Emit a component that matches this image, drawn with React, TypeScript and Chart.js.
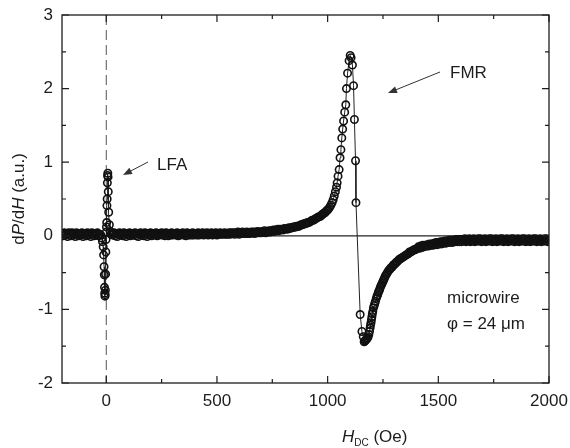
import { useEffect, useRef } from 'react';
import { Chart, registerables } from 'chart.js';

Chart.register(...registerables);

// ---- Data (H_DC in Oe, dP/dH in a.u.) ----
const baseLeftField = [-200, -195, -190, -185, -180, -175, -170, -165, -160, -155, -150, -145, -140, -135, -130, -125, -120, -115, -110, -105, -100, -95, -90, -85, -80, -75, -70, -65, -60, -55, -50, -45, -40, -35, -30];
const baseLeftSignal = [0.03, 0.0, 0.04, 0.01, 0.03, -0.01, 0.04, 0.02, 0.0, 0.04, 0.01, 0.03, -0.01, 0.04, 0.02, 0.0, 0.03, 0.01, 0.04, -0.01, 0.03, 0.02, 0.0, 0.04, 0.01, 0.03, -0.01, 0.04, 0.02, 0.0, 0.03, 0.01, 0.04, 0.0, 0.02];

const lfaField = [-24, -20, -17, -14, -12, -10, -9, -8, -7, -6, -5, -4, -3, -2, -1, 0, 1, 2, 3, 4, 5, 6, 7, 8, 9, 11, 14, 18, 22, 26];
const lfaSignal = [0.01, -0.03, -0.08, -0.15, -0.26, -0.42, -0.53, -0.7, -0.78, -0.82, -0.8, -0.74, -0.52, -0.22, -0.05, 0.05, 0.12, 0.18, 0.41, 0.5, 0.72, 0.82, 0.85, 0.8, 0.6, 0.32, 0.15, 0.06, 0.02, 0.03];

const midField = [
  30, 35, 40, 45, 50, 55, 60, 65, 70, 75, 80, 85, 90, 95, 100, 105, 110, 115, 120, 125,
  130, 135, 140, 145, 150, 155, 160, 165, 170, 175, 180, 185, 190, 195, 200, 205, 210, 215, 220, 225,
  230, 235, 240, 245, 250, 255, 260, 265, 270, 275, 280, 285, 290, 295, 300, 305, 310, 315, 320, 325,
  330, 335, 340, 345, 350, 355, 360, 365, 370, 375, 380, 385, 390, 395, 400, 405, 410, 415, 420, 425,
  430, 435, 440, 445, 450, 455, 460, 465, 470, 475, 480, 485, 490, 495, 500, 505, 510, 515, 520, 525,
  530, 535, 540, 545, 550, 555, 560, 565, 570, 575, 580, 585, 590, 595, 600, 605, 610, 615, 620, 625,
  630, 635, 640, 645, 650, 655, 660, 665, 670, 675, 680, 685, 690, 695,
];
const midSignal = [
  0.01, 0.04, 0.0, 0.03, -0.01, 0.02, 0.04, 0.01, 0.03, 0.0, 0.04, 0.02, -0.01, 0.03, 0.01, 0.04, 0.0, 0.02, 0.03, 0.01,
  0.04, 0.0, 0.03, -0.01, 0.02, 0.04, 0.01, 0.03, 0.0, 0.04, 0.02, -0.01, 0.03, 0.01, 0.04, 0.0, 0.02, 0.03, 0.01, 0.04,
  0.0, 0.03, 0.01, 0.02, 0.04, 0.01, 0.03, 0.0, 0.04, 0.02, 0.0, 0.03, 0.01, 0.04, 0.01, 0.02, 0.03, 0.01, 0.04, 0.0,
  0.03, 0.01, 0.02, 0.04, 0.01, 0.03, 0.0, 0.04, 0.02, 0.01, 0.03, 0.01, 0.04, 0.01, 0.02, 0.03, 0.01, 0.04, 0.01, 0.03,
  0.02, 0.04, 0.01, 0.03, 0.02, 0.04, 0.01, 0.03, 0.02, 0.04, 0.01, 0.03, 0.02, 0.04, 0.01, 0.03, 0.02, 0.04, 0.02, 0.03,
  0.02, 0.04, 0.02, 0.03, 0.02, 0.04, 0.02, 0.04, 0.03, 0.04, 0.02, 0.04, 0.03, 0.05, 0.02, 0.04, 0.03, 0.05, 0.03, 0.04,
  0.03, 0.05, 0.03, 0.04, 0.03, 0.05, 0.04, 0.05, 0.03, 0.05, 0.04, 0.06, 0.04, 0.05,
];

const fmrField = [
  700, 705, 710, 715, 720, 725, 730, 735, 740, 745, 750, 755, 760, 765, 770, 775, 780, 785, 790, 795,
  800, 805, 810, 815, 820, 825, 830, 835, 840, 845, 850, 855, 860, 865, 870, 875, 880, 885, 890, 895,
  900, 905, 910, 915, 920, 925, 930, 935, 940, 945, 950, 955, 960, 965, 970, 975, 980, 985, 990, 995,
  1000, 1005, 1010, 1015, 1020, 1025, 1030, 1035, 1040, 1043,
  1047, 1052, 1056, 1060, 1064, 1068, 1072, 1077, 1082, 1085,
  1090, 1097, 1102, 1106, 1112, 1117, 1121, 1126, 1128, 1147,
  1155, 1161, 1165, 1168, 1171, 1174, 1177, 1180, 1183, 1186, 1189, 1192, 1194, 1196, 1198,
  1200, 1202, 1204, 1207, 1210, 1213, 1216, 1220, 1223, 1226, 1229, 1232, 1235, 1238, 1241, 1244, 1247,
  1250, 1253, 1256, 1260, 1264, 1268, 1272, 1276, 1280, 1284, 1288, 1292, 1296, 1300, 1305, 1310, 1315,
  1320, 1325, 1330, 1335, 1340, 1345, 1350, 1355, 1360, 1365, 1370, 1375, 1380, 1385, 1390, 1395, 1400,
];
const fmrSignal = [
  0.04, 0.06, 0.05, 0.07, 0.04, 0.06, 0.05, 0.07, 0.05, 0.07, 0.06, 0.08, 0.06, 0.08, 0.07, 0.09, 0.07, 0.09, 0.08, 0.09,
  0.08, 0.1, 0.09, 0.1, 0.09, 0.11, 0.1, 0.11, 0.11, 0.12, 0.12, 0.12, 0.13, 0.13, 0.13, 0.14, 0.15, 0.15, 0.16, 0.16,
  0.17, 0.17, 0.18, 0.18, 0.19, 0.2, 0.21, 0.21, 0.22, 0.23, 0.24, 0.25, 0.26, 0.26, 0.27, 0.29, 0.3, 0.31, 0.32, 0.34,
  0.35, 0.37, 0.39, 0.42, 0.45, 0.49, 0.54, 0.6, 0.66, 0.72,
  0.81, 0.9, 1.06, 1.17, 1.33, 1.45, 1.56, 1.68, 1.78, 2.0,
  2.21, 2.38, 2.45, 2.42, 2.32, 2.04, 1.58, 1.02, 0.45, -1.07,
  -1.3, -1.37, -1.44, -1.43, -1.42, -1.41, -1.4, -1.39, -1.37, -1.34, -1.3, -1.25, -1.21, -1.18, -1.14,
  -1.1, -1.06, -1.03, -0.98, -0.95, -0.92, -0.89, -0.85, -0.82, -0.8, -0.77, -0.75, -0.73, -0.7, -0.68, -0.66, -0.64,
  -0.62, -0.6, -0.58, -0.55, -0.53, -0.51, -0.49, -0.47, -0.46, -0.44, -0.43, -0.42, -0.4, -0.39, -0.38, -0.36, -0.35,
  -0.33, -0.32, -0.31, -0.3, -0.29, -0.28, -0.27, -0.26, -0.25, -0.24, -0.22, -0.22, -0.21, -0.2, -0.19, -0.19, -0.18,
];

const tailField = [
  1405, 1410, 1415, 1420, 1425, 1430, 1435, 1440, 1445, 1450, 1455, 1460, 1465, 1470, 1475, 1480, 1485, 1490, 1495, 1500,
  1505, 1510, 1515, 1520, 1525, 1530, 1535, 1540, 1545, 1550, 1555, 1560, 1565, 1570, 1575, 1580, 1585, 1590, 1595, 1600,
  1605, 1610, 1615, 1620, 1625, 1630, 1635, 1640, 1645, 1650, 1655, 1660, 1665, 1670, 1675, 1680, 1685, 1690, 1695, 1700,
  1705, 1710, 1715, 1720, 1725, 1730, 1735, 1740, 1745, 1750, 1755, 1760, 1765, 1770, 1775, 1780, 1785, 1790, 1795, 1800,
  1805, 1810, 1815, 1820, 1825, 1830, 1835, 1840, 1845, 1850, 1855, 1860, 1865, 1870, 1875, 1880, 1885, 1890, 1895, 1900,
  1905, 1910, 1915, 1920, 1925, 1930, 1935, 1940, 1945, 1950, 1955, 1960, 1965, 1970, 1975, 1980, 1985, 1990, 1995, 2000,
];
const tailSignal = [
  -0.17, -0.15, -0.17, -0.14, -0.16, -0.13, -0.15, -0.13, -0.14, -0.12, -0.14, -0.11, -0.13, -0.11, -0.13, -0.1, -0.12, -0.09, -0.12, -0.09,
  -0.11, -0.08, -0.11, -0.08, -0.1, -0.07, -0.1, -0.07, -0.09, -0.06, -0.09, -0.06, -0.09, -0.06, -0.08, -0.05, -0.08, -0.05, -0.08, -0.05,
  -0.08, -0.05, -0.07, -0.04, -0.08, -0.05, -0.07, -0.04, -0.08, -0.05, -0.07, -0.04, -0.08, -0.05, -0.07, -0.04, -0.07, -0.04, -0.08, -0.05,
  -0.07, -0.04, -0.08, -0.05, -0.07, -0.04, -0.07, -0.04, -0.08, -0.05, -0.07, -0.04, -0.08, -0.05, -0.07, -0.04, -0.07, -0.04, -0.08, -0.05,
  -0.07, -0.04, -0.08, -0.05, -0.07, -0.04, -0.07, -0.04, -0.08, -0.05, -0.07, -0.04, -0.08, -0.05, -0.07, -0.04, -0.07, -0.04, -0.08, -0.05,
  -0.07, -0.04, -0.08, -0.05, -0.07, -0.04, -0.07, -0.04, -0.08, -0.05, -0.07, -0.04, -0.08, -0.05, -0.07, -0.04, -0.07, -0.04, -0.08, -0.05,
];

const xMajorTicks = [0, 500, 1000, 1500, 2000];
const xMinorTicks = [250, 750, 1250, 1750];
const yMajorTicks = [-2, -1, 0, 1, 2, 3];
const yMinorTicks = [-1.5, -0.5, 0.5, 1.5, 2.5];

const FONT = '"Liberation Sans", Arial, Helvetica, sans-serif';
const INK = '#1c1c1c';

function zip(xs: number[], ys: number[]) {
  return xs.map((x, i) => ({ x, y: ys[i] }));
}

function drawArrow(ctx: CanvasRenderingContext2D, x1: number, y1: number, x2: number, y2: number) {
  const ang = Math.atan2(y2 - y1, x2 - x1);
  const hl = 9;
  const hw = 3.5;
  ctx.save();
  ctx.strokeStyle = '#333';
  ctx.fillStyle = '#333';
  ctx.lineWidth = 1;
  ctx.beginPath();
  ctx.moveTo(x1, y1);
  ctx.lineTo(x2 - Math.cos(ang) * hl * 0.8, y2 - Math.sin(ang) * hl * 0.8);
  ctx.stroke();
  ctx.beginPath();
  ctx.moveTo(x2, y2);
  ctx.lineTo(x2 - hl * Math.cos(ang) + hw * Math.sin(ang), y2 - hl * Math.sin(ang) - hw * Math.cos(ang));
  ctx.lineTo(x2 - hl * Math.cos(ang) - hw * Math.sin(ang), y2 - hl * Math.sin(ang) + hw * Math.cos(ang));
  ctx.closePath();
  ctx.fill();
  ctx.restore();
}

type Piece = { t: string; italic?: boolean; size?: number; dy?: number };

function drawPieces(ctx: CanvasRenderingContext2D, pieces: Piece[], x: number, y: number, align: 'left' | 'center') {
  const widths = pieces.map((p) => {
    ctx.font = `${p.italic ? 'italic ' : ''}${p.size ?? 17}px ${FONT}`;
    return ctx.measureText(p.t).width;
  });
  const total = widths.reduce((a, b) => a + b, 0);
  let cx = align === 'center' ? x - total / 2 : x;
  pieces.forEach((p, i) => {
    ctx.font = `${p.italic ? 'italic ' : ''}${p.size ?? 17}px ${FONT}`;
    ctx.fillText(p.t, cx, y + (p.dy ?? 0));
    cx += widths[i];
  });
}

const decorPlugin = {
  id: 'decor',
  beforeDatasetsDraw(chart: any) {
    const { ctx, chartArea: a, scales } = chart;
    const xs = scales.x;
    const ys = scales.y;
    ctx.save();
    ctx.beginPath();
    ctx.rect(a.left, a.top, a.right - a.left, a.bottom - a.top);
    ctx.clip();
    const y0 = ys.getPixelForValue(0);
    ctx.strokeStyle = '#222';
    ctx.lineWidth = 1.2;
    ctx.beginPath();
    ctx.moveTo(a.left, y0);
    ctx.lineTo(a.right, y0);
    ctx.stroke();
    const x0 = xs.getPixelForValue(0);
    ctx.strokeStyle = '#555';
    ctx.lineWidth = 1;
    ctx.setLineDash([10, 5]);
    ctx.beginPath();
    ctx.moveTo(x0, a.top);
    ctx.lineTo(x0, a.bottom);
    ctx.stroke();
    ctx.restore();
  },
  afterDraw(chart: any) {
    const { ctx, chartArea: a, scales } = chart;
    const xs = scales.x;
    const ys = scales.y;
    ctx.save();
    ctx.strokeStyle = INK;
    ctx.lineWidth = 1.3;
    ctx.strokeRect(a.left, a.top, a.right - a.left, a.bottom - a.top);
    ctx.lineWidth = 1.2;
    const tick = (vals: number[], len: number) => {
      vals.forEach((v) => {
        const px = xs.getPixelForValue(v);
        ctx.beginPath();
        ctx.moveTo(px, a.bottom);
        ctx.lineTo(px, a.bottom - len);
        ctx.moveTo(px, a.top);
        ctx.lineTo(px, a.top + len);
        ctx.stroke();
      });
    };
    const ytick = (vals: number[], len: number) => {
      vals.forEach((v) => {
        const py = ys.getPixelForValue(v);
        ctx.beginPath();
        ctx.moveTo(a.left, py);
        ctx.lineTo(a.left + len, py);
        ctx.moveTo(a.right, py);
        ctx.lineTo(a.right - len, py);
        ctx.stroke();
      });
    };
    tick(xMajorTicks, 7);
    tick(xMinorTicks, 4);
    ytick(yMajorTicks, 7);
    ytick(yMinorTicks, 4);

    ctx.fillStyle = INK;
    ctx.textBaseline = 'alphabetic';
    drawPieces(
      ctx,
      [
        { t: 'H', italic: true },
        { t: 'DC', size: 10, dy: 4 },
        { t: ' (Oe)' },
      ],
      342,
      442,
      'left'
    );
    ctx.save();
    ctx.translate(24, (a.top + a.bottom) / 2);
    ctx.rotate(-Math.PI / 2);
    drawPieces(
      ctx,
      [
        { t: 'd' },
        { t: 'P', italic: true },
        { t: '/d' },
        { t: 'H', italic: true },
        { t: ' (a.u.)' },
      ],
      0,
      0,
      'center'
    );
    ctx.restore();

    ctx.font = `17px ${FONT}`;
    ctx.textAlign = 'left';
    ctx.fillText('LFA', 157, 170);
    ctx.fillText('FMR', 450, 78);
    ctx.fillText('microwire', 447, 303);
    ctx.fillText('φ = 24 μm', 447, 329);
    drawArrow(ctx, 148, 162, 123, 175);
    drawArrow(ctx, 440, 72, 388, 93);
    ctx.restore();
  },
};

export default function App() {
  const ref = useRef<HTMLCanvasElement>(null);
  useEffect(() => {
    document.body.style.margin = '0';
    const data = [
      ...zip(baseLeftField, baseLeftSignal),
      ...zip(lfaField, lfaSignal),
      ...zip(midField, midSignal),
      ...zip(fmrField, fmrSignal),
      ...zip(tailField, tailSignal),
    ];
    const chart = new Chart(ref.current as HTMLCanvasElement, {
      type: 'scatter',
      data: {
        datasets: [
          {
            data,
            showLine: true,
            borderColor: '#222',
            borderWidth: 1,
            pointRadius: 3.7,
            pointBorderWidth: 1.6,
            pointBorderColor: '#111',
            pointBackgroundColor: 'rgba(255,255,255,0)',
            pointStyle: 'circle',
          },
        ],
      },
      options: {
        responsive: false,
        animation: false,
        devicePixelRatio: 1,
        layout: { padding: { top: 15, right: 21, left: 0, bottom: 0 } },
        plugins: { legend: { display: false }, tooltip: { enabled: false } },
        scales: {
          x: {
            type: 'linear',
            min: -200,
            max: 2000,
            grid: { display: false, drawTicks: false },
            border: { display: false },
            afterBuildTicks: (s: any) => {
              s.ticks = xMajorTicks.map((v) => ({ value: v }));
            },
            afterFit: (s: any) => {
              s.height = 65;
              s.paddingLeft = 0;
              s.paddingRight = 0;
            },
            ticks: {
              padding: 8,
              color: INK,
              font: { family: FONT, size: 17 },
              maxRotation: 0,
              callback: (v: any) => String(v),
            },
          },
          y: {
            type: 'linear',
            min: -2,
            max: 3,
            grid: { display: false, drawTicks: false },
            border: { display: false },
            afterBuildTicks: (s: any) => {
              s.ticks = yMajorTicks.map((v) => ({ value: v }));
            },
            afterFit: (s: any) => {
              s.width = 62;
              s.paddingTop = 0;
              s.paddingBottom = 0;
            },
            ticks: {
              padding: 9,
              color: INK,
              font: { family: FONT, size: 17 },
              callback: (v: any) => String(v),
            },
          },
        },
      },
      plugins: [decorPlugin],
    });
    return () => chart.destroy();
  }, []);
  return (
    <div style={{ width: 570, height: 448 }}>
      <canvas ref={ref} width={570} height={448} style={{ display: 'block' }} />
    </div>
  );
}
